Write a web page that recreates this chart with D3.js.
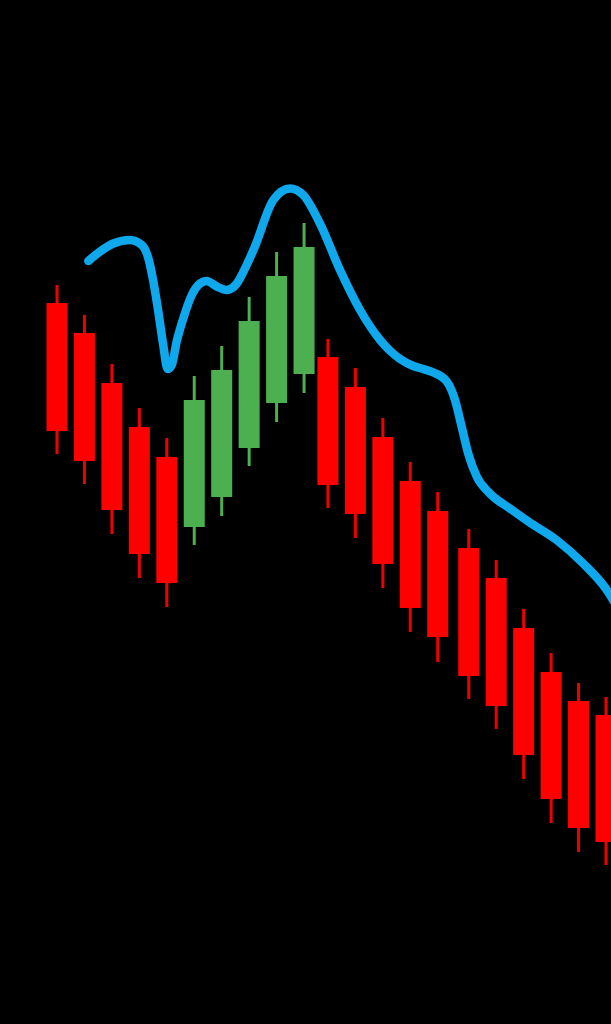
<!DOCTYPE html>
<html>
<head>
<meta charset="utf-8">
<script src="https://cdn.jsdelivr.net/npm/d3@7"></script>
<style>
  html, body { margin: 0; padding: 0; background: #000; }
  svg { display: block; }
</style>
</head>
<body>
<svg id="chart" width="611" height="1024"></svg>
<script>
// ---- data ----
// candle time positions (session index; small gaps between sessions)
const periods = [0,1,2,3,4,5,6,7,8,9, 9.87,10.87,11.87,12.87,13.87, 15,16,17,18,19,20];
const opens  = [139.4,133.4,123.4,114.6,108.6, 94.6,100.6,110.4,119.4,125.2, 128.6,122.6,112.6,103.8,97.8, 90.4,84.4,74.4,65.6,59.8,57.0];
const closes = [113.8,107.8, 98.0, 89.2, 83.4,120.0,126.0,135.8,144.8,150.6, 103.0, 97.2, 87.2, 78.4,72.6, 64.8,58.8,49.0,40.2,34.4,31.6];
const highs  = [143.0,137.0,127.2,118.4,112.4,124.8,130.8,140.6,149.6,155.4, 132.2,126.4,116.4,107.6,101.6, 94.2,88.0,78.2,69.4,63.4,60.6];
const lows   = [109.2,103.2, 93.2, 84.4, 78.6, 91.0, 96.8,106.8,115.6,121.4,  98.4, 92.4, 82.4, 73.6,67.6, 60.2,54.2,44.2,35.4,29.6,27.0];

// smoothed trend line (x in period units, y in price)
const lineX = [1.14,1.57,2.05,2.66,3.09,3.33,3.51,3.69,3.87,4.03,4.18,4.36,4.60,4.91,5.21,5.45,5.82,6.18,6.55,6.91,7.21,7.88,8.49,8.97,9.58,10.31,11.04,11.77,12.14,12.50,12.98,13.34,13.71,14.20,14.50,14.74,14.98,15.29,15.77,16.50,17.17,18.20,19.17,20.03,20.51];
const lineY = [147.8,149.7,151.3,152.0,151.0,148.3,143.7,137.7,131.0,126.2,127.0,131.7,136.3,141.0,143.3,143.8,142.7,142.0,143.3,147.0,150.7,160.0,162.3,161.0,155.3,146.0,138.0,132.0,129.8,128.2,126.8,126.2,125.5,123.7,120.0,114.7,109.3,104.7,101.3,98.3,95.7,92.0,87.3,82.0,77.6];

// ---- chart ----
const W = 611, H = 1024;
const svg = d3.select("#chart");
svg.append("rect").attr("width", W).attr("height", H).attr("fill", "#000");

const x = d3.scaleLinear().domain([0, 20]).range([57, 606]);
const y = d3.scaleLinear().domain([0, 200]).range([1000, 0]);
const bodyW = 21;

const candles = periods.map((t, i) => ({
  t, open: opens[i], close: closes[i], high: highs[i], low: lows[i]
}));
const up = d => d.close >= d.open;

const g = svg.append("g");
g.selectAll("line.wick").data(candles).join("line")
  .attr("class", "wick")
  .attr("x1", d => x(d.t)).attr("x2", d => x(d.t))
  .attr("y1", d => y(d.high)).attr("y2", d => y(d.low))
  .attr("stroke", d => up(d) ? "#4caf50" : "#ee0000")
  .attr("stroke-width", 3);

g.selectAll("rect.body").data(candles).join("rect")
  .attr("class", "body")
  .attr("x", d => x(d.t) - bodyW / 2)
  .attr("width", bodyW)
  .attr("y", d => y(Math.max(d.open, d.close)))
  .attr("height", d => Math.abs(y(d.open) - y(d.close)))
  .attr("fill", d => up(d) ? "#4caf50" : "#ff0000");

const pts = lineX.map((v, k) => [v, lineY[k]]);
const line = d3.line().x(d => x(d[0])).y(d => y(d[1])).curve(d3.curveMonotoneX);
svg.append("path")
  .datum(pts)
  .attr("d", line)
  .attr("fill", "none")
  .attr("stroke", "#10a8ec")
  .attr("stroke-width", 8.5)
  .attr("stroke-linecap", "round")
  .attr("stroke-linejoin", "round");
</script>
</body>
</html>
